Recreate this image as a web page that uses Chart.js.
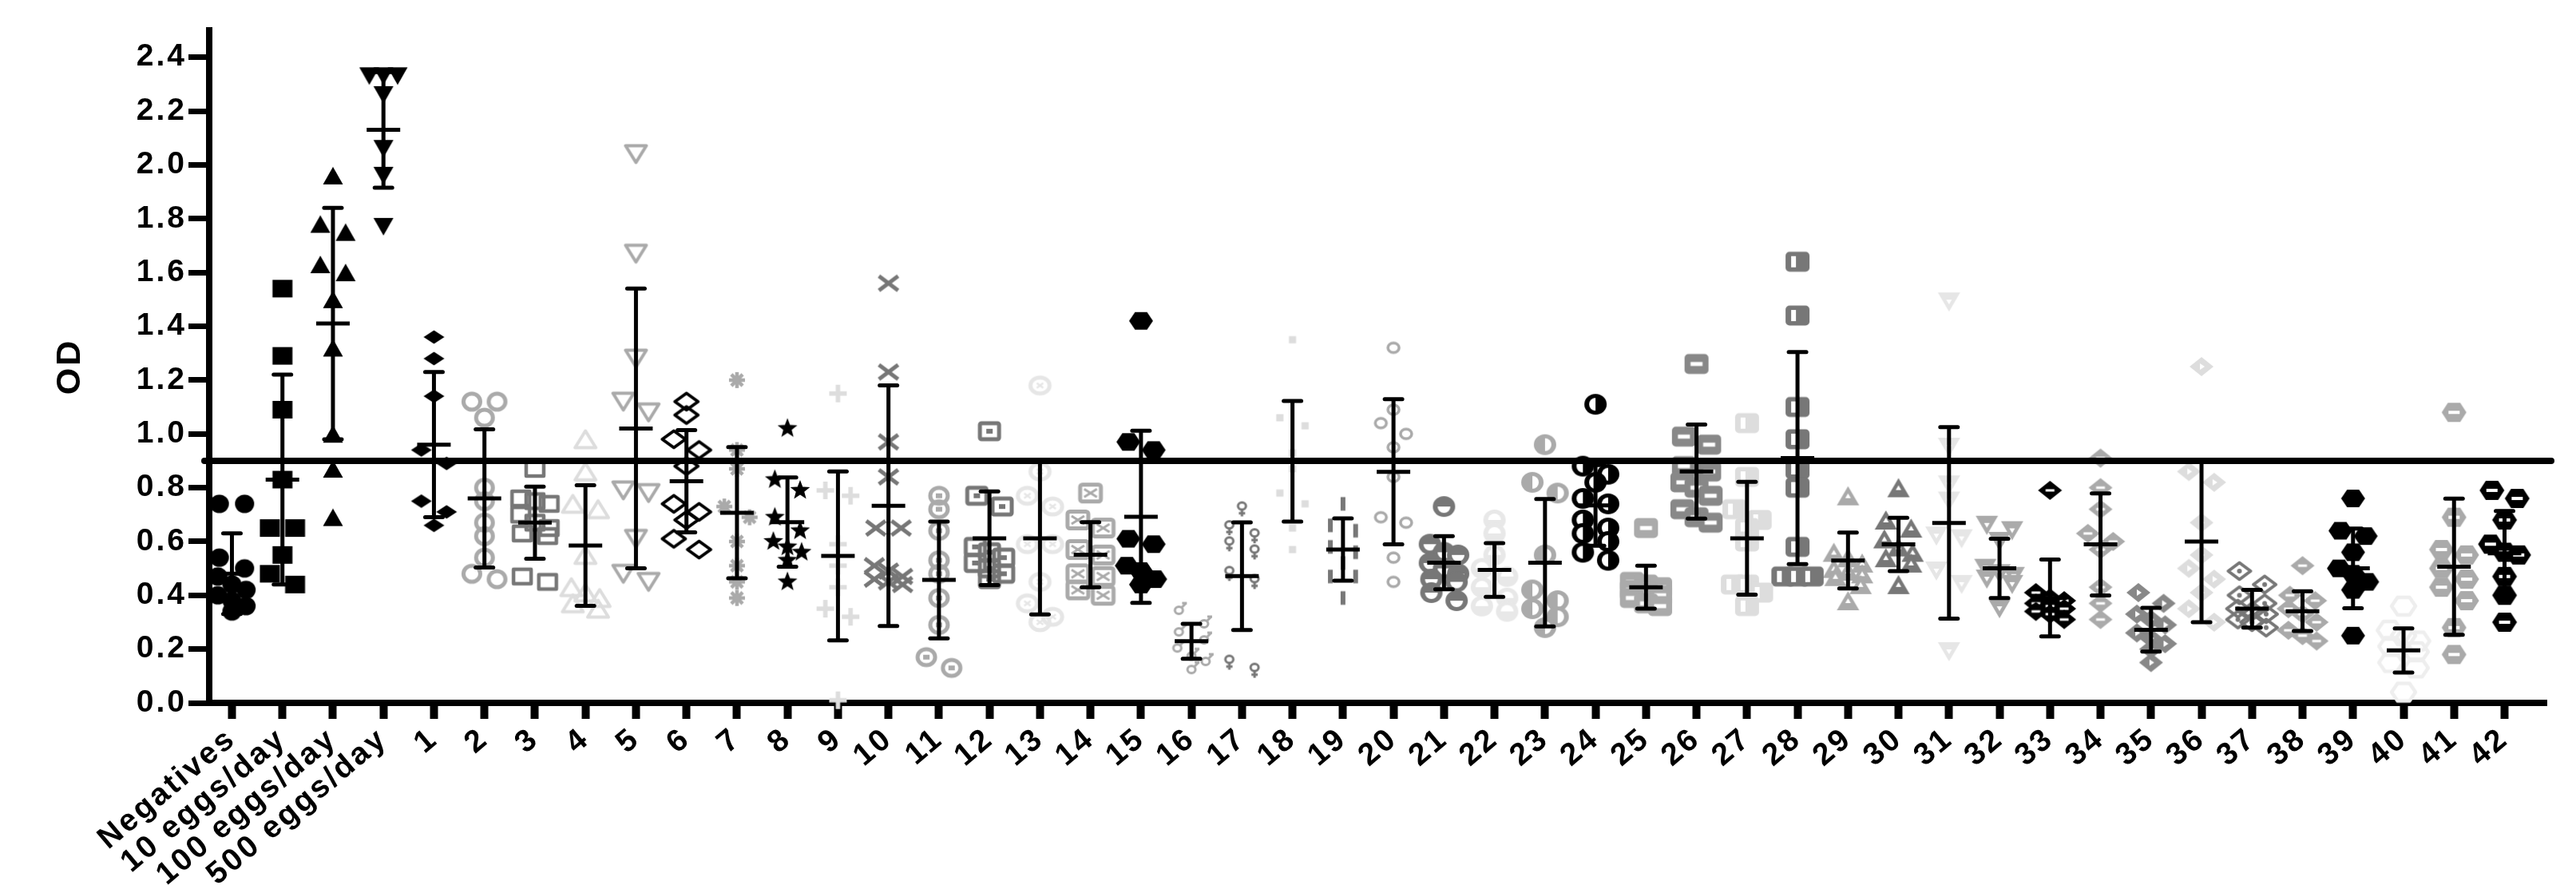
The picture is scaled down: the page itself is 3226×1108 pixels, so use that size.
<!DOCTYPE html>
<html>
<head>
<meta charset="utf-8">
<script src="https://cdn.jsdelivr.net/npm/chart.js@4.4.1/dist/chart.umd.min.js"></script>
<style>
  html, body { margin: 0; padding: 0; background: #fff; overflow: hidden; }
  canvas { display: block; }
</style>
</head>
<body>
<canvas id="odChart" width="3226" height="1108"></canvas>
<script>
const categories = ['Negatives', '10 eggs/day', '100 eggs/day', '500 eggs/day',
    ...Array.from({ length: 42 }, (_, i) => String(i + 1))];
const yTicks = [0, 0.2, 0.4, 0.6, 0.8, 1.0, 1.2, 1.4, 1.6, 1.8, 2.0, 2.2, 2.4];
const cutoff = 0.9;

// controls
const negatives = [0.74, 0.74, 0.54, 0.50, 0.47, 0.44, 0.42, 0.40, 0.38, 0.36, 0.34];
const eggs10 = [1.54, 1.29, 1.09, 0.83, 0.65, 0.65, 0.55, 0.48, 0.44];
const eggs100 = [1.96, 1.78, 1.75, 1.63, 1.60, 1.50, 1.32, 1.00, 0.87, 0.69];
const eggs500 = [2.33, 2.33, 2.33, 2.26, 2.06, 1.96, 1.77];

// samples 1..42
const samples = [
    [1.36, 1.28, 1.14, 0.94, 0.89, 0.75, 0.71, 0.66],
    [1.12, 1.12, 1.06, 0.80, 0.75, 0.67, 0.62, 0.54, 0.48, 0.46],
    [0.87, 0.76, 0.75, 0.74, 0.70, 0.67, 0.65, 0.63, 0.62, 0.47, 0.45],
    [0.98, 0.86, 0.74, 0.72, 0.55, 0.43, 0.41, 0.39, 0.37, 0.35],
    [2.04, 1.67, 1.28, 1.12, 1.08, 0.79, 0.78, 0.61, 0.48, 0.45],
    [1.12, 1.07, 0.98, 0.94, 0.88, 0.74, 0.71, 0.68, 0.61, 0.57],
    [1.20, 0.94, 0.87, 0.73, 0.69, 0.60, 0.51, 0.45, 0.39],
    [1.02, 0.83, 0.79, 0.69, 0.64, 0.60, 0.58, 0.56, 0.53, 0.45],
    [1.15, 0.79, 0.77, 0.59, 0.51, 0.43, 0.35, 0.32, 0.01],
    [1.56, 1.23, 0.97, 0.84, 0.65, 0.65, 0.51, 0.49, 0.47, 0.46, 0.45, 0.44],
    [0.77, 0.72, 0.64, 0.53, 0.48, 0.39, 0.29, 0.17, 0.13],
    [1.01, 0.77, 0.73, 0.58, 0.56, 0.54, 0.52, 0.50, 0.48, 0.46],
    [1.18, 0.86, 0.77, 0.73, 0.59, 0.59, 0.45, 0.37, 0.32, 0.30],
    [0.78, 0.68, 0.65, 0.57, 0.55, 0.48, 0.47, 0.42, 0.40],
    [1.42, 0.97, 0.94, 0.61, 0.59, 0.51, 0.49, 0.46, 0.44],
    [0.35, 0.30, 0.27, 0.24, 0.21, 0.18, 0.16, 0.13],
    [0.72, 0.65, 0.62, 0.59, 0.56, 0.48, 0.45, 0.15, 0.12],
    [1.35, 1.06, 1.03, 0.93, 0.87, 0.78, 0.74, 0.65, 0.57],
    [0.74, 0.66, 0.64, 0.58, 0.56, 0.52, 0.47, 0.47, 0.39],
    [1.32, 1.09, 1.04, 1.00, 0.95, 0.84, 0.69, 0.67, 0.54, 0.45],
    [0.73, 0.59, 0.56, 0.55, 0.52, 0.50, 0.48, 0.46, 0.45, 0.41, 0.38],
    [0.68, 0.63, 0.55, 0.50, 0.47, 0.43, 0.39, 0.36, 0.34],
    [0.96, 0.82, 0.78, 0.55, 0.42, 0.38, 0.35, 0.32, 0.28],
    [1.11, 0.88, 0.85, 0.82, 0.76, 0.74, 0.68, 0.65, 0.63, 0.60, 0.56, 0.53],
    [0.65, 0.45, 0.44, 0.43, 0.42, 0.41, 0.40, 0.39, 0.37, 0.36],
    [1.26, 0.99, 0.96, 0.88, 0.86, 0.82, 0.80, 0.77, 0.72, 0.69, 0.67],
    [1.04, 0.84, 0.72, 0.68, 0.65, 0.60, 0.44, 0.44, 0.41, 0.36],
    [1.64, 1.44, 1.10, 0.98, 0.87, 0.80, 0.58, 0.47, 0.47, 0.47],
    [0.77, 0.56, 0.54, 0.52, 0.50, 0.49, 0.48, 0.47, 0.44, 0.38],
    [0.80, 0.68, 0.65, 0.61, 0.58, 0.56, 0.54, 0.52, 0.44],
    [1.49, 0.95, 0.81, 0.75, 0.62, 0.61, 0.49, 0.44, 0.19],
    [0.66, 0.64, 0.60, 0.50, 0.48, 0.47, 0.46, 0.44, 0.35],
    [0.79, 0.41, 0.39, 0.38, 0.37, 0.36, 0.35, 0.34, 0.33, 0.31],
    [0.91, 0.80, 0.72, 0.63, 0.60, 0.57, 0.43, 0.37, 0.31],
    [0.41, 0.37, 0.33, 0.31, 0.29, 0.26, 0.24, 0.22, 0.20, 0.15],
    [1.25, 0.86, 0.82, 0.67, 0.55, 0.50, 0.46, 0.41, 0.35, 0.30],
    [0.49, 0.44, 0.40, 0.37, 0.35, 0.34, 0.33, 0.31, 0.30, 0.28],
    [0.51, 0.40, 0.38, 0.35, 0.33, 0.30, 0.27, 0.25, 0.23],
    [0.76, 0.64, 0.62, 0.56, 0.50, 0.48, 0.45, 0.42, 0.25],
    [0.36, 0.27, 0.25, 0.23, 0.21, 0.19, 0.15, 0.13, 0.04],
    [1.08, 0.69, 0.57, 0.55, 0.50, 0.46, 0.43, 0.38, 0.28, 0.18],
    [0.79, 0.76, 0.68, 0.59, 0.56, 0.55, 0.47, 0.40, 0.30],
];

// mean and SD bars as drawn
const means = [0.48, 0.83, 1.41, 2.13, 0.96, 0.76, 0.67, 0.585, 1.02, 0.824, 0.707, 0.672, 0.546,
    0.733, 0.457, 0.612, 0.612, 0.551, 0.692, 0.229, 0.471, 0.898, 0.57, 0.859, 0.521, 0.494,
    0.521, 0.734, 0.43, 0.86, 0.612, 0.91, 0.529, 0.589, 0.669, 0.50, 0.39, 0.589, 0.272, 0.60,
    0.35, 0.341, 0.50, 0.195, 0.506, 0.556];
const sds = [0.15, 0.39, 0.43, 0.215, 0.27, 0.257, 0.134, 0.224, 0.52, 0.19, 0.244, 0.166, 0.314,
    0.447, 0.217, 0.174, 0.283, 0.121, 0.32, 0.065, 0.20, 0.224, 0.116, 0.27, 0.099, 0.10,
    0.237, 0.15, 0.08, 0.175, 0.21, 0.394, 0.104, 0.099, 0.356, 0.11, 0.143, 0.19, 0.081, 0.30,
    0.07, 0.074, 0.148, 0.082, 0.253, 0.157];

const groups = [negatives, eggs10, eggs100, eggs500, ...samples];

// symbol + grey level per group, like the Prism defaults
const markerStyles = [
    ['circle', '#000'], ['square', '#000'], ['triUp', '#000'], ['triDown', '#000'],
    ['diamond', '#000'], ['circleOpen', '#aaa'], ['squareOpen', '#777'], ['triUpOpen', '#ddd'],
    ['triDownOpen', '#aaa'], ['diamondOpen', '#000'], ['asterisk', '#aaa'], ['star', '#000'],
    ['plus', '#ddd'], ['cross', '#777'], ['circleSquare', '#aaa'], ['squareDot', '#777'],
    ['circleX', '#e6e6e6'], ['squareX', '#aaa'], ['hexagon', '#000'], ['male', '#aaa'],
    ['female', '#777'], ['smallSquare', '#ddd'], ['vbar', '#777'], ['circleSmall', '#aaa'],
    ['halfDown', '#777'], ['halfUp', '#e8e8e8'], ['halfRight', '#aaa'], ['halfLeft', '#000'],
    ['rrectH', '#aaa'], ['rrectH', '#888'], ['rrectV', '#ddd'], ['rrectV', '#777'],
    ['triUpDot', '#aaa'], ['triUpDot', '#777'], ['triDownDot', '#e6e6e6'], ['triDownDot', '#aaa'],
    ['diamondSlit', '#000'], ['diamondSlit', '#aaa'], ['diamondTri', '#888'], ['diamondTri', '#ddd'],
    ['diamondDot', '#777'], ['diamondSlit', '#aaa'], ['hexagon', '#000'], ['hexOpen', '#eee'],
    ['hexSlit', '#aaa'], ['hexSlit', '#000'],
];

function makeMarker(kind, color) {
    const c = document.createElement('canvas');
    c.width = 36;
    c.height = 36;
    const g = c.getContext('2d');
    g.translate(18, 18);
    g.fillStyle = color;
    g.strokeStyle = color;
    g.lineJoin = 'round';

    const ellipse = (rx, ry, dy = 0) => { g.beginPath(); g.ellipse(0, dy, rx, ry, 0, 0, Math.PI * 2); };
    const box = (w, h, r = 0) => { g.beginPath(); g.roundRect(-w / 2, -h / 2, w, h, r); };
    const poly = (pts) => {
        g.beginPath();
        pts.forEach(([px, py], k) => (k ? g.lineTo(px, py) : g.moveTo(px, py)));
        g.closePath();
    };
    const triUp = (w, h) => poly([[0, -h / 2], [w / 2, h / 2], [-w / 2, h / 2]]);
    const triDown = (w, h) => poly([[0, h / 2], [w / 2, -h / 2], [-w / 2, -h / 2]]);
    const diamond = (w, h) => poly([[0, -h / 2], [w / 2, 0], [0, h / 2], [-w / 2, 0]]);
    const hexagon = (w, h) => poly([[-w / 2, 0], [-w / 4, -h / 2], [w / 4, -h / 2], [w / 2, 0], [w / 4, h / 2], [-w / 4, h / 2]]);
    const seg = (x1, y1, x2, y2, lw) => {
        g.lineWidth = lw;
        g.beginPath();
        g.moveTo(x1, y1);
        g.lineTo(x2, y2);
        g.stroke();
    };
    const hole = (w, h, dx = 0, dy = 0) => {
        g.fillStyle = '#fff';
        g.fillRect(dx - w / 2, dy - h / 2, w, h);
        g.fillStyle = color;
    };
    // filled disc with a white half-disc cut out, start angle picks the side
    const halfDisc = (start) => {
        ellipse(14, 13); g.fill();
        g.fillStyle = '#fff';
        g.beginPath();
        g.moveTo(0, 0);
        g.arc(0, 0, 8, start, start + Math.PI);
        g.closePath();
        g.fill();
        g.fillStyle = color;
    };

    switch (kind) {
        case 'circle': ellipse(12, 11.5); g.fill(); break;
        case 'square': box(25, 22); g.fill(); break;
        case 'triUp': triUp(25, 22); g.fill(); break;
        case 'triDown': triDown(25, 22); g.fill(); break;
        case 'diamond': diamond(26, 17); g.fill(); break;
        case 'circleOpen': g.lineWidth = 5; ellipse(10.5, 10); g.stroke(); break;
        case 'circleSmall': g.lineWidth = 3.5; ellipse(7, 6); g.stroke(); break;
        case 'squareOpen': g.lineWidth = 4.5; box(22, 18); g.stroke(); break;
        case 'triUpOpen': g.lineWidth = 4; triUp(26, 21); g.stroke(); break;
        case 'triDownOpen': g.lineWidth = 4; triDown(26, 21); g.stroke(); break;
        case 'diamondOpen': g.lineWidth = 4; diamond(29, 21); g.stroke(); break;
        case 'asterisk':
            for (let k = 0; k < 4; k++) {
                const a = k * Math.PI / 4;
                seg(-10 * Math.cos(a), -10 * Math.sin(a), 10 * Math.cos(a), 10 * Math.sin(a), 4.5);
            }
            ellipse(5, 5); g.fill();
            break;
        case 'star':
            g.beginPath();
            for (let k = 0; k < 10; k++) {
                const r = k % 2 ? 5.5 : 13;
                const a = -Math.PI / 2 + k * Math.PI / 5;
                const px = r * Math.cos(a);
                const py = r * Math.sin(a);
                if (k) g.lineTo(px, py); else g.moveTo(px, py);
            }
            g.closePath(); g.fill();
            break;
        case 'plus': seg(-11, 0, 11, 0, 5.5); seg(0, -11, 0, 11, 5.5); break;
        case 'cross': seg(-12, -9, 12, 9, 5); seg(-12, 9, 12, -9, 5); break;
        case 'circleSquare': g.lineWidth = 5; ellipse(11, 10); g.stroke(); g.fillRect(-4, -3, 8, 6); break;
        case 'squareDot': g.lineWidth = 5; box(24, 20, 2); g.stroke(); g.fillRect(-4, -3, 8, 6); break;
        case 'circleX':
            g.lineWidth = 5; ellipse(12, 10); g.stroke();
            seg(-4, -3, 4, 3, 2.5); seg(-4, 3, 4, -3, 2.5);
            break;
        case 'squareX':
            g.lineWidth = 5; box(26, 21, 3); g.stroke();
            seg(-8, -5, 8, 5, 3); seg(-8, 5, 8, -5, 3);
            break;
        case 'hexagon': hexagon(30, 22); g.fill(); break;
        case 'male':
            g.lineWidth = 3; ellipse(5, 4.5, 2); g.stroke();
            seg(3, -1, 9, -7, 3); seg(4, -7, 10, -7, 3);
            break;
        case 'female':
            g.lineWidth = 3; ellipse(5, 4.5, -4); g.stroke();
            seg(0, 0, 0, 9, 3); seg(-4, 5, 4, 5, 3);
            break;
        case 'smallSquare': box(9, 9); g.fill(); break;
        case 'vbar': box(6, 17); g.fill(); break;
        case 'halfDown': halfDisc(0); break;
        case 'halfUp': halfDisc(Math.PI); break;
        case 'halfRight': halfDisc(-Math.PI / 2); break;
        case 'halfLeft': halfDisc(Math.PI / 2); break;
        case 'rrectH': box(30, 25, 5); g.fill(); hole(15, 5); break;
        case 'rrectV': box(30, 25, 5); g.fill(); hole(6, 14, -5, 0); break;
        case 'triUpDot':
            triUp(28, 24); g.fill();
            g.fillStyle = '#fff'; triUp(7, 6); g.fill();
            break;
        case 'triDownDot':
            triDown(28, 24); g.fill();
            g.fillStyle = '#fff'; triDown(7, 6); g.fill();
            break;
        case 'diamondSlit': diamond(30, 24); g.fill(); hole(11, 3); break;
        case 'diamondTri':
            diamond(30, 24); g.fill();
            g.fillStyle = '#fff'; poly([[-2, -4], [4, 0], [-2, 4]]); g.fill();
            break;
        case 'diamondDot':
            g.lineWidth = 4; diamond(28, 21); g.stroke();
            ellipse(3, 3); g.fill();
            break;
        case 'hexOpen': g.lineWidth = 4.5; hexagon(30, 22); g.stroke(); break;
        case 'hexSlit': hexagon(31, 24); g.fill(); hole(14, 4); break;
    }
    return c;
}

// simple Prism-like spread: near-equal values sit side by side in rows of up to three
const rowGap = 0.05;
function spread(values) {
    const order = values.map((v, i) => [v, i]).sort((a, b) => b[0] - a[0]);
    const offsets = new Array(values.length).fill(0);
    let row = [];
    const flush = () => {
        const step = row.length === 2 ? 0.5 : 0.28;
        row.forEach((idx, j) => { offsets[idx] = (j - (row.length - 1) / 2) * step; });
        row = [];
    };
    let rowTop = null;
    order.forEach(([v, i]) => {
        if (row.length && (rowTop - v > rowGap || row.length >= 3)) flush();
        if (!row.length) rowTop = v;
        row.push(i);
    });
    flush();
    return offsets;
}

const datasets = groups.map((values, i) => {
    const offsets = spread(values);
    const [kind, color] = markerStyles[i];
    return {
        label: categories[i],
        data: values.map((v, k) => ({ x: i + offsets[k], y: v })),
        pointStyle: makeMarker(kind, color),
        pointRadius: 12,
        clip: false,
    };
});

const spacingPlugin = {
    id: 'letterSpacing',
    beforeUpdate(chart) { chart.ctx.letterSpacing = '3px'; },
    beforeDraw(chart) { chart.ctx.letterSpacing = '3px'; },
};

const errorBarPlugin = {
    id: 'meanSd',
    afterDatasetsDraw(chart) {
        const { ctx, chartArea, scales: { x, y } } = chart;
        const line = (x1, y1, x2, y2) => {
            ctx.beginPath();
            ctx.moveTo(x1, y1);
            ctx.lineTo(x2, y2);
            ctx.stroke();
        };
        ctx.save();
        ctx.strokeStyle = '#000';
        means.forEach((m, i) => {
            const cx = x.getPixelForValue(i);
            const top = y.getPixelForValue(m + sds[i]);
            const bottom = y.getPixelForValue(Math.max(0, m - sds[i]));
            const mid = y.getPixelForValue(m);
            ctx.lineCap = 'butt';
            ctx.lineWidth = 5;
            line(cx, top, cx, bottom);
            ctx.lineCap = 'round';
            line(cx - 11, top, cx + 11, top);
            line(cx - 11, bottom, cx + 11, bottom);
            ctx.lineCap = 'butt';
            line(cx - 21, mid, cx + 21, mid);
        });
        ctx.lineCap = 'round';
        ctx.lineWidth = 8;
        const cy = y.getPixelForValue(cutoff);
        line(chartArea.left - 6, cy, chartArea.right + 6, cy);
        ctx.restore();
    },
};

const fontFamily = '"Liberation Sans", Arial, sans-serif';
const yTickFont = { family: fontFamily, size: 39, weight: 'bold' };
// small lineHeight keeps the rotated label ends right at their tick marks
const xTickFont = { family: fontFamily, size: 39, weight: 'bold', lineHeight: 0.15 };

new Chart(document.getElementById('odChart'), {
    type: 'scatter',
    data: { datasets },
    options: {
        responsive: false,
        animation: false,
        layout: { padding: { top: 38, right: 37, bottom: 0, left: 0 } },
        plugins: {
            legend: { display: false },
            tooltip: { enabled: false },
        },
        scales: {
            x: {
                type: 'linear',
                min: -0.45,
                max: 45.83,
                afterBuildTicks: (scale) => { scale.ticks = categories.map((_, i) => ({ value: i })); },
                afterFit: (scale) => { scale.height = 228; },
                grid: { drawOnChartArea: false, tickLength: 20, tickWidth: 10, tickColor: '#000' },
                border: { width: 8, color: '#000' },
                ticks: {
                    autoSkip: false,
                    minRotation: 40,
                    maxRotation: 40,
                    padding: 18,
                    color: '#000',
                    font: xTickFont,
                    callback: (value) => categories[value],
                },
            },
            y: {
                min: 0,
                max: 2.5,
                afterBuildTicks: (scale) => { scale.ticks = yTicks.map((v) => ({ value: v })); },
                afterFit: (scale) => { scale.width = 262; },
                grid: { drawOnChartArea: false, tickLength: 26, tickWidth: 7, tickColor: '#000' },
                border: { width: 8, color: '#000' },
                ticks: {
                    padding: 2,
                    color: '#000',
                    font: yTickFont,
                    callback: (value) => value.toFixed(1),
                },
                title: {
                    display: true,
                    text: 'OD',
                    color: '#000',
                    font: { family: fontFamily, size: 43, weight: 'bold' },
                    padding: { top: 62, bottom: 0 },
                },
            },
        },
    },
    plugins: [spacingPlugin, errorBarPlugin],
});
</script>
</body>
</html>
